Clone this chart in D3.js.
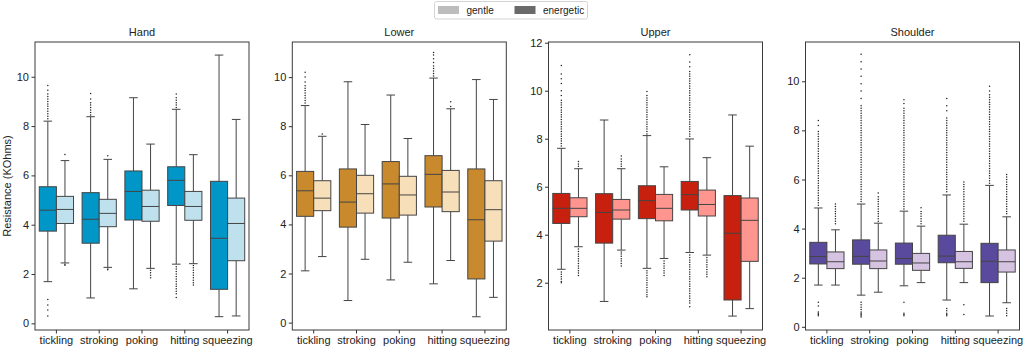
<!DOCTYPE html>
<html lang="en">
<head>
<meta charset="utf-8">
<title>Resistance by touch gesture</title>
<script src="https://d3js.org/d3.v7.min.js"></script>
<style>
  body { margin: 0; background: #fff; }
  svg { display: block; font-family: "Liberation Sans", Arial, sans-serif; }
  .tick text { font-size: 11px; fill: #222; }
  .tick line { stroke: #333; }
  .title { font-size: 11px; fill: #222; }
  .legend text { font-size: 10px; fill: #222; }
</style>
</head>
<body>
<svg width="1024" height="348"></svg>
<script>
// ---- data ----
const panels = ["Hand", "Lower", "Upper", "Shoulder"];
const categories = ["tickling", "stroking", "poking", "hitting", "squeezing"];
const groups = ["energetic", "gentle"];        // left box, right box
const legendLabels = ["gentle", "energetic"];
const yLabel = "Resistance (KOhms)";
const yTicks = [[0, 2, 4, 6, 8, 10], [0, 2, 4, 6, 8, 10], [2, 4, 6, 8, 10, 12], [0, 2, 4, 6, 8, 10]];

// [low whisker, q1, median, q3, high whisker] per category
const handEnergetic = [[1.69, 3.74, 4.59, 5.54, 8.2], [1.03, 3.25, 4.22, 5.3, 8.38], [1.4, 4.19, 5.35, 6.18, 9.15], [2.4, 4.78, 5.8, 6.35, 8.68], [0.27, 1.38, 3.45, 5.76, 10.88]];
const handGentle    = [[2.45, 4.05, 4.62, 5.15, 6.6], [2.27, 3.92, 4.46, 5.03, 6.65], [2.23, 4.14, 4.74, 5.4, 7.27], [2.42, 4.18, 4.74, 5.35, 6.84], [0.3, 2.54, 4.05, 5.08, 8.27]];
const lowerEnergetic = [[2.11, 4.33, 5.37, 6.16, 8.84], [0.9, 3.89, 4.91, 6.26, 9.81], [1.74, 4.26, 5.65, 6.56, 9.27], [1.58, 4.71, 6.04, 6.8, 9.96], [0.24, 1.78, 4.19, 6.26, 9.9]];
const lowerGentle    = [[2.69, 4.56, 5.07, 5.78, 7.59], [2.58, 4.46, 5.25, 6.0, 8.07], [2.46, 4.38, 5.2, 5.96, 7.5], [2.53, 4.52, 5.32, 6.2, 8.71], [1.03, 3.32, 4.6, 5.78, 9.09]];
const upperEnergetic = [[2.56, 4.47, 5.1, 5.72, 7.6], [1.22, 3.65, 4.93, 5.71, 8.78], [2.6, 4.67, 5.42, 6.04, 8.13], [3.26, 5.03, 5.67, 6.22, 7.99], [0.61, 1.28, 4.06, 5.63, 8.99]];
const upperGentle    = [[3.5, 4.75, 5.1, 5.54, 6.75], [3.36, 4.65, 5.03, 5.47, 6.75], [3.01, 4.58, 5.1, 5.68, 6.83], [3.15, 4.78, 5.26, 5.86, 7.21], [0.92, 2.89, 4.6, 5.53, 7.69]];
const shoulderEnergetic = [[1.7, 2.56, 2.86, 3.44, 4.84], [1.29, 2.55, 2.87, 3.54, 5.0], [1.67, 2.55, 2.78, 3.41, 4.71], [1.09, 2.61, 2.88, 3.73, 5.37], [0.44, 1.8, 2.67, 3.4, 5.76]];
const shoulderGentle    = [[1.7, 2.37, 2.65, 3.05, 3.95], [1.41, 2.37, 2.68, 3.13, 4.22], [1.8, 2.3, 2.6, 2.99, 4.1], [1.8, 2.38, 2.65, 3.07, 4.18], [0.98, 2.23, 2.65, 3.13, 4.48]];

// outliers per category
const handEnergeticOut = [
  [8.3, 8.4, 8.5, 8.6, 8.7, 8.8, 8.9, 9.0, 9.1, 9.2, 9.3, 9.45, 9.65, 0.3, 0.54, 0.74, 0.97],
  [8.45, 8.55, 8.65, 8.75, 8.85, 8.95, 9.1, 9.32],
  [],
  [8.75, 8.85, 8.95, 9.05, 9.15, 9.3, 2.3, 2.2, 2.1, 2.0, 1.9, 1.8, 1.7, 1.6, 1.5, 1.4, 1.3, 1.2, 1.05],
  []];
const handGentleOut = [
  [6.85, 2.4, 2.36], [6.8, 2.2, 2.17], [2.15, 2.05, 1.95, 1.85],
  [2.35, 2.25, 2.15, 2.05, 1.95, 1.85, 1.75, 1.65, 1.55], []];
const lowerEnergeticOut = [
  [8.95, 9.05, 9.15, 9.25, 9.35, 9.45, 9.55, 9.65, 9.8, 10.0, 10.2], [], [],
  [10.05, 10.15, 10.25, 10.35, 10.45, 10.6, 10.75, 10.9, 11.0], []];
const lowerGentleOut = [[7.68], [], [], [8.8, 9.0], []];
const upperEnergeticOut = [
  [7.7, 7.8, 7.9, 8.0, 8.1, 8.2, 8.3, 8.4, 8.5, 8.6, 8.7, 8.8, 8.9, 9.0, 9.1, 9.2, 9.3, 9.4, 9.5, 9.6, 9.8, 10.0, 10.3, 10.5, 10.7, 11.05,
   2.45, 2.35, 2.25, 2.15, 2.05, 2.0],
  [],
  [8.2, 8.3, 8.4, 8.5, 8.6, 8.7, 8.8, 8.9, 9.0, 9.1, 9.2, 9.3, 9.4, 9.5, 9.6, 9.7, 9.8, 9.97,
   2.5, 2.4, 2.3, 2.2, 2.1, 2.0, 1.9, 1.8, 1.7, 1.6, 1.5, 1.42],
  [8.1, 8.2, 8.3, 8.4, 8.5, 8.6, 8.7, 8.8, 8.9, 9.0, 9.1, 9.2, 9.3, 9.4, 9.5, 9.6, 9.7, 9.8, 9.9, 10.0, 10.1, 10.2, 10.3, 10.4, 10.5, 10.6, 10.7, 10.8, 11.0, 11.2, 11.5,
   3.15, 3.05, 2.95, 2.85, 2.75, 2.65, 2.55, 2.45, 2.35, 2.25, 2.15, 2.05, 1.95, 1.85, 1.75, 1.65, 1.55, 1.45, 1.35, 1.25, 1.15, 1.0],
  []];
const upperGentleOut = [
  [6.85, 6.95, 7.05, 3.4, 3.3, 3.2, 3.1, 3.0, 2.9, 2.8, 2.7, 2.6, 2.5, 2.4, 2.3],
  [6.85, 6.95, 7.05, 7.15, 7.28, 3.28, 3.2, 3.1, 3.0, 2.9, 2.8, 2.7],
  [2.9, 2.8, 2.7, 2.6, 2.5, 2.4, 2.3],
  [3.05, 2.95, 2.85, 2.75, 2.65, 2.55, 2.45, 2.35, 2.25],
  []];
const shoulderEnergeticOut = [
  [4.95, 5.05, 5.15, 5.25, 5.35, 5.45, 5.55, 5.65, 5.75, 5.85, 5.95, 6.05, 6.15, 6.25, 6.35, 6.45, 6.55, 6.65, 6.75, 6.85, 6.95, 7.05, 7.15, 7.25, 7.35, 7.45, 7.55, 7.65, 7.75, 7.85, 7.95, 8.2, 8.4,
   0.45, 0.5, 0.55, 0.6, 0.85, 1.0],
  [5.1, 5.2, 5.3, 5.4, 5.5, 5.6, 5.7, 5.8, 5.9, 6.0, 6.1, 6.2, 6.3, 6.4, 6.5, 6.6, 6.7, 6.8, 6.9, 7.0, 7.1, 7.2, 7.3, 7.4, 7.5, 7.6, 7.7, 7.8, 7.9, 8.0, 8.1, 8.2, 8.3, 8.4, 8.5, 8.6, 8.7, 8.8, 8.9, 9.0, 9.3, 9.6, 9.9, 10.2, 10.5, 10.8, 11.1,
   0.4, 0.45, 0.5, 0.55, 0.6, 0.7, 0.8, 0.9, 1.0],
  [4.8, 4.9, 5.0, 5.1, 5.2, 5.3, 5.4, 5.5, 5.6, 5.7, 5.8, 5.9, 6.0, 6.1, 6.2, 6.3, 6.4, 6.5, 6.6, 6.7, 6.8, 6.9, 7.0, 7.1, 7.2, 7.3, 7.4, 7.5, 7.6, 7.7, 7.8, 7.9, 8.0, 8.1, 8.2, 8.3, 8.4, 8.5, 8.6, 8.7, 8.8, 8.9, 9.1, 9.25,
   0.45, 0.5, 0.55, 1.0],
  [5.5, 5.6, 5.7, 5.8, 5.9, 6.0, 6.1, 6.2, 6.3, 6.4, 6.5, 6.6, 6.7, 6.8, 6.9, 7.0, 7.1, 7.2, 7.3, 7.4, 7.5, 7.6, 7.7, 7.8, 7.9, 8.0, 8.1, 8.2, 8.3, 8.4, 8.5, 8.8, 9.0, 9.3,
   0.45, 0.5, 0.55, 0.65, 0.75],
  [5.85, 5.95, 6.05, 6.15, 6.25, 6.35, 6.45, 6.55, 6.65, 6.75, 6.85, 6.95, 7.05, 7.15, 7.25, 7.35, 7.45, 7.55, 7.65, 7.75, 7.85, 7.95, 8.05, 8.15, 8.25, 8.35, 8.45, 8.55, 8.65, 8.75, 8.85, 8.95, 9.05, 9.15, 9.25, 9.35, 9.45, 9.6, 9.8]];
const shoulderGentleOut = [
  [4.2, 4.3, 4.4, 4.5, 4.6, 4.7, 4.8, 4.9, 5.0],
  [4.3, 4.4, 4.5, 4.6, 4.7, 4.8, 4.9, 5.0, 5.1, 5.2, 5.3, 5.45],
  [4.2, 4.3, 4.4, 4.5, 4.6, 4.7, 4.85],
  [4.3, 4.4, 4.5, 4.6, 4.7, 4.8, 4.9, 5.0, 5.1, 5.2, 5.3, 5.4, 5.5, 5.6, 5.7, 5.8, 5.9, 0.5, 0.9],
  [4.6, 4.7, 4.8, 4.9, 5.0, 5.1, 5.2, 5.3, 5.4, 5.5, 5.6, 5.7, 5.8, 5.9, 6.0, 6.1, 6.2, 0.45, 0.55, 0.65, 0.75]];

const panelStats = [
  {energetic: handEnergetic, gentle: handGentle},
  {energetic: lowerEnergetic, gentle: lowerGentle},
  {energetic: upperEnergetic, gentle: upperGentle},
  {energetic: shoulderEnergetic, gentle: shoulderGentle}];
const panelOut = [
  {energetic: handEnergeticOut, gentle: handGentleOut},
  {energetic: lowerEnergeticOut, gentle: lowerGentleOut},
  {energetic: upperEnergeticOut, gentle: upperGentleOut},
  {energetic: shoulderEnergeticOut, gentle: shoulderGentleOut}];

// ---- layout / style ----
const panelLeft = [35, 292.3, 548.5, 805.5];
const panelW = 214;
const plotTop = 42, plotBottom = 330;
const yDomains = [[-0.27, 11.41], [-0.3, 11.43], [0.03, 12.03], [-0.13, 11.6]];
const colors = [
  {energetic: "#0096c8", gentle: "#bfe1ee"},
  {energetic: "#c98a2e", gentle: "#f6dfb9"},
  {energetic: "#c8200f", gentle: "#fe968f"},
  {energetic: "#5a4a9d", gentle: "#d6c3e1"}];
const lineColor = "#444";

const svg = d3.select("svg");

panels.forEach((name, i) => {
  const x = d3.scaleBand().domain(categories).range([panelLeft[i], panelLeft[i] + panelW]).padding(0);
  const bw = x.bandwidth();
  const sub = d3.scaleBand().domain(groups).range([0.1 * bw, 0.9 * bw]).padding(0);
  const y = d3.scaleLinear().domain(yDomains[i]).range([plotBottom, plotTop]);

  const g = svg.append("g");

  groups.forEach(grp => {
    const stats = panelStats[i][grp];
    const outs = panelOut[i][grp];
    const w = sub.bandwidth();

    const box = g.selectAll(null)
      .data(categories.map((c, k) => ({c, s: stats[k], o: outs[k]})))
      .enter().append("g")
      .attr("transform", d => `translate(${x(d.c) + sub(grp)},0)`);

    // whiskers
    box.append("line")
      .attr("x1", w / 2).attr("x2", w / 2)
      .attr("y1", d => y(d.s[0])).attr("y2", d => y(d.s[1]))
      .attr("stroke", lineColor).attr("stroke-width", 1);
    box.append("line")
      .attr("x1", w / 2).attr("x2", w / 2)
      .attr("y1", d => y(d.s[3])).attr("y2", d => y(d.s[4]))
      .attr("stroke", lineColor).attr("stroke-width", 1);
    // caps
    [0, 4].forEach(j => {
      box.append("line")
        .attr("x1", w / 4).attr("x2", w * 3 / 4)
        .attr("y1", d => y(d.s[j])).attr("y2", d => y(d.s[j]))
        .attr("stroke", lineColor).attr("stroke-width", 1);
    });
    // box
    box.append("rect")
      .attr("x", 0).attr("width", w)
      .attr("y", d => y(d.s[3]))
      .attr("height", d => y(d.s[1]) - y(d.s[3]))
      .attr("fill", colors[i][grp])
      .attr("stroke", lineColor).attr("stroke-width", 1);
    // median
    box.append("line")
      .attr("x1", 0).attr("x2", w)
      .attr("y1", d => y(d.s[2])).attr("y2", d => y(d.s[2]))
      .attr("stroke", lineColor).attr("stroke-width", 1);
    // outliers
    box.selectAll("circle")
      .data(d => d.o)
      .enter().append("circle")
      .attr("cx", w / 2)
      .attr("cy", v => y(v))
      .attr("r", 0.75)
      .attr("fill", "#222");
  });

  // frame
  g.append("rect")
    .attr("x", panelLeft[i]).attr("y", plotTop)
    .attr("width", panelW).attr("height", plotBottom - plotTop)
    .attr("fill", "none").attr("stroke", "#3a3a3a").attr("stroke-width", 1);

  const yAxis = g.append("g")
    .attr("transform", `translate(${panelLeft[i]},0)`)
    .call(d3.axisLeft(y).tickValues(yTicks[i]).tickFormat(d3.format("d")).tickSize(3.5).tickPadding(2.5));
  yAxis.select(".domain").remove();

  const xAxis = g.append("g")
    .attr("transform", `translate(0,${plotBottom})`)
    .call(d3.axisBottom(x).tickSize(3.5).tickPadding(2.5));
  xAxis.select(".domain").remove();

  g.append("text")
    .attr("class", "title")
    .attr("x", panelLeft[i] + panelW / 2)
    .attr("y", 36)
    .attr("text-anchor", "middle")
    .text(name);
});

// y label
svg.append("text")
  .attr("transform", "translate(10.5,186) rotate(-90)")
  .attr("text-anchor", "middle")
  .style("font-size", "11px")
  .attr("fill", "#222")
  .text(yLabel);

// legend
const legend = svg.append("g").attr("class", "legend");
legend.append("rect")
  .attr("x", 434.5).attr("y", 1.5).attr("width", 153).attr("height", 17.5)
  .attr("rx", 2).attr("fill", "#fff").attr("stroke", "#d4d4d4");
const legendColors = {gentle: "#bdbdbd", energetic: "#6a6a6a"};
const legendX = d3.scalePoint().domain(legendLabels).range([438, 514.5]);
legendLabels.forEach(l => {
  legend.append("rect")
    .attr("x", legendX(l)).attr("y", 6).attr("width", 21).attr("height", 8)
    .attr("fill", legendColors[l]);
  legend.append("text")
    .attr("x", legendX(l) + 28.5).attr("y", 13.5)
    .text(l);
});
</script>
</body>
</html>
